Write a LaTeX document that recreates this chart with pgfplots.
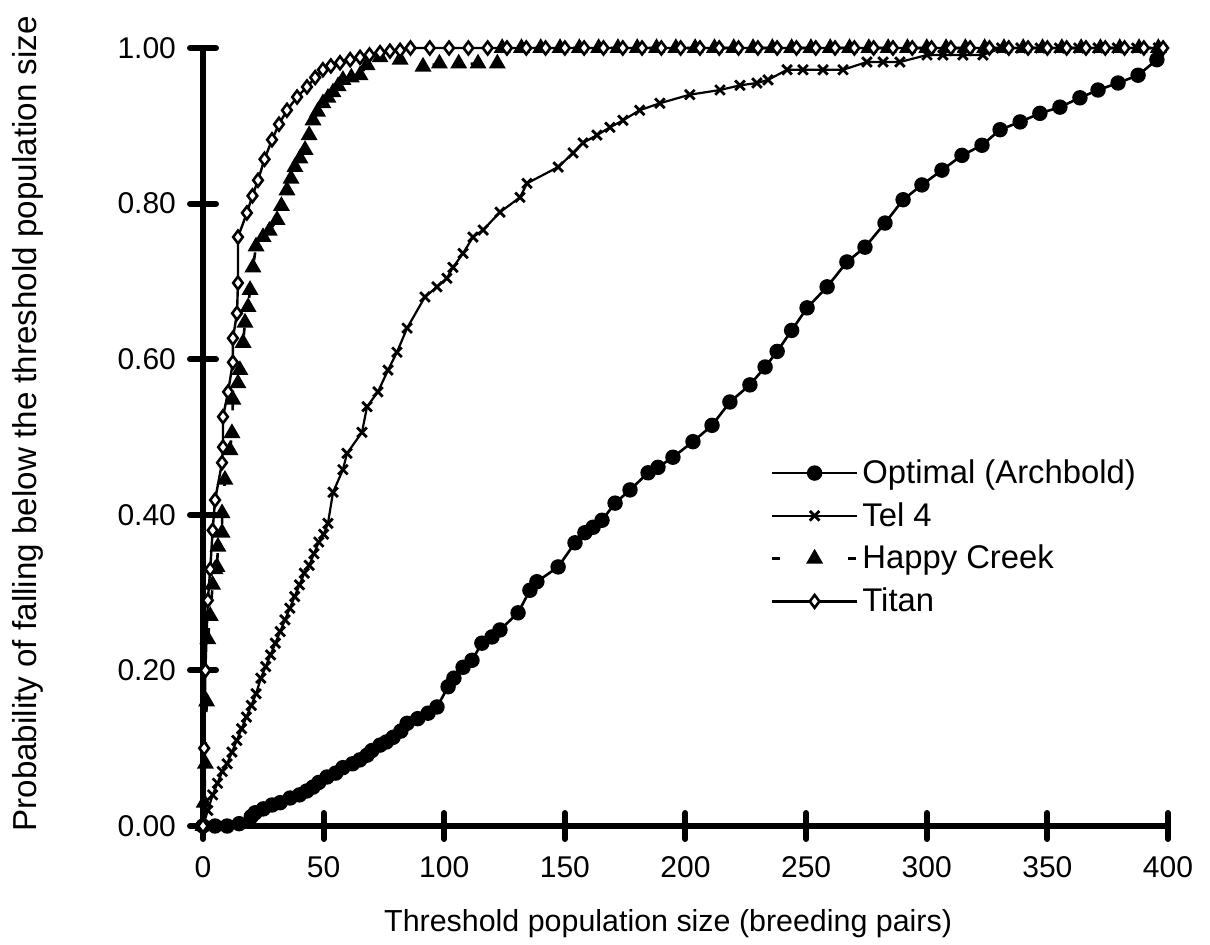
\documentclass[border=0pt]{standalone}
\usepackage{fontspec}
\setmainfont{Liberation Sans}
\usepackage{pgfplots}
\usepackage{pgfplotstable}
\pgfplotsset{compat=1.18}

\pgfplotstableread{
x y
0 0
5 0
10 0
15 0.003
20 0.012
21.6 0.017
25 0.022
28.6 0.027
32 0.03
36.1 0.036
40 0.040
43 0.045
45.6 0.050
48 0.056
51.4 0.063
55 0.068
58 0.075
62 0.080
65 0.085
68 0.091
70 0.097
73.4 0.104
76 0.108
78.8 0.114
82 0.122
84.6 0.132
89 0.138
93.3 0.145
97 0.153
101.6 0.179
104 0.19
107.8 0.204
111.5 0.213
115.6 0.235
119.8 0.243
123.1 0.252
130.6 0.274
135.5 0.303
138.4 0.314
147.2 0.333
154.2 0.364
158.3 0.377
161.7 0.384
165.4 0.393
170.8 0.415
177.0 0.432
184.5 0.454
188.6 0.461
194.8 0.474
203.1 0.494
211.0 0.515
218.4 0.545
226.7 0.567
233 0.59
238 0.61
244 0.637
250.4 0.666
258.7 0.693
266.9 0.725
274.4 0.744
282.7 0.775
290.2 0.805
298.0 0.824
306.3 0.843
314.6 0.862
322.9 0.875
330.4 0.895
338.7 0.905
346.9 0.916
355.2 0.924
363.5 0.936
371.0 0.946
379.3 0.955
387.6 0.965
395.4 0.985
}\optimal

\pgfplotstableread{
x y
0 0
2 0.02
4 0.04
6 0.055
8 0.07
10 0.08
12 0.095
14 0.11
16 0.125
18 0.14
20 0.155
22 0.17
24 0.19
26 0.205
28 0.22
30 0.235
32 0.25
34 0.265
36 0.28
38 0.295
40 0.31
42 0.325
44 0.335
46 0.35
48 0.365
50 0.375
51.8 0.389
53.9 0.429
58.0 0.458
59.7 0.479
65.9 0.506
68.0 0.539
72.5 0.558
76.7 0.586
80.4 0.609
84.6 0.640
92.0 0.680
97.0 0.693
101.1 0.704
103.6 0.718
107.8 0.736
111.9 0.757
116.1 0.766
123.1 0.789
131.4 0.808
134.3 0.826
147.2 0.847
153.4 0.865
157.5 0.878
163.3 0.888
168.7 0.898
174.1 0.907
181 0.920
189.4 0.929
201.8 0.940
214.3 0.946
222.6 0.952
229.6 0.955
234.2 0.959
242.1 0.972
248.7 0.972
257.0 0.972
265.3 0.972
275.2 0.982
281.9 0.982
288.9 0.982
300.1 0.991
306.7 0.991
315.0 0.991
323.3 0.991
331 1.0
339 1.0
347 1.0
355 1.0
363 1.0
371 1.0
379 1.0
387 1.0
396 1.0
}\telfour

\pgfplotstableread{
x y
0 0
0.5 0.03
1 0.08
1.5 0.16
2 0.24
3 0.27
4 0.31
5 0.33
5.8 0.333
6.2 0.359
7.9 0.377
7.9 0.402
9.1 0.445
11.2 0.483
12.0 0.505
12.4 0.548
14.5 0.569
15.3 0.586
16.6 0.621
17.4 0.647
18.7 0.667
19.5 0.689
20.7 0.718
22 0.745
24.9 0.757
27.5 0.765
30.7 0.779
32.5 0.797
34.8 0.817
36.5 0.832
38.1 0.847
40.2 0.858
42.3 0.869
44 0.888
45.6 0.907
47.5 0.918
49.7 0.929
51.8 0.936
53.9 0.943
56 0.951
58.0 0.959
61.5 0.962
65.1 0.965
68.0 0.978
73.4 0.988
81.7 0.985
91.2 0.976
98 0.98
106 0.98
114 0.98
122 0.98
124 1.0
132 1.0
140 1.0
148 1.0
156 1.0
164 1.0
172 1.0
180 1.0
188 1.0
196 1.0
204 1.0
212 1.0
220 1.0
228 1.0
236 1.0
244 1.0
252 1.0
260 1.0
268 1.0
276 1.0
284 1.0
292 1.0
300 1.0
308 1.0
316 1.0
324 1.0
332 1.0
340 1.0
348 1.0
356 1.0
364 1.0
372 1.0
380 1.0
388 1.0
396 1.0
}\happy

\pgfplotstableread{
x y
0 0
0.5 0.1
1 0.2
2 0.29
3 0.33
4 0.38
5.0 0.419
7.9 0.467
8.3 0.487
8.3 0.526
10.4 0.558
12.4 0.596
12.4 0.627
14.1 0.659
14.5 0.698
14.5 0.757
18.2 0.788
20.5 0.810
22.8 0.830
25.5 0.857
28.6 0.882
31.5 0.902
34.8 0.920
39 0.937
43.1 0.950
46.5 0.962
49.7 0.972
53 0.977
56.8 0.981
61 0.985
65.1 0.988
69 0.991
73.4 0.994
77.5 0.996
81.7 0.997
86 1.0
94 1.0
102 1.0
110 1.0
118 1.0
126 1.0
134 1.0
142 1.0
150 1.0
158 1.0
166 1.0
174 1.0
182 1.0
190 1.0
198 1.0
206 1.0
214 1.0
222 1.0
230 1.0
238 1.0
246 1.0
254 1.0
262 1.0
270 1.0
278 1.0
286 1.0
294 1.0
302 1.0
310 1.0
318 1.0
326 1.0
334 1.0
342 1.0
350 1.0
358 1.0
366 1.0
374 1.0
382 1.0
390 1.0
398 1.0
}\titan

\begin{document}
\begin{tikzpicture}
\path[use as bounding box] (-101.5pt,-59pt) rectangle (503.5pt,413pt);
\begin{axis}[
  at={(0pt,0pt)}, anchor=origin,
  scale only axis,
  width=482.5pt, height=389pt,
  xmin=0, xmax=400, ymin=0, ymax=1,
  clip=false,
  axis x line*=bottom, axis y line*=left,
  axis line style={line width=3pt, line cap=round, -},
  every outer x axis line/.append style={-},
  every outer y axis line/.append style={-},
  xtick={0,50,...,400},
  ytick={0,0.2,...,1.0},
  minor tick num=0,
  tick align=center,
  major tick length=13pt,
  major tick style={line width=3pt, line cap=round, black},
  /pgf/number format/assume math mode=true,
  yticklabel style={/pgf/number format/.cd, fixed, fixed zerofill, precision=2, /tikz/.cd, font=\fontsize{15}{17}\selectfont, xshift=-3.5pt},
  xticklabel style={/pgf/number format/.cd, fixed, /tikz/.cd, font=\fontsize{15}{17}\selectfont, yshift=-5pt},
  scaled ticks=false,
  xlabel={Threshold population size (breeding pairs)},
  ylabel={Probability of falling below the threshold population size},
  xlabel style={at={(axis description cs:0.482,-0.126)}, anchor=center, font=\fontsize{15.2}{17}\selectfont},
  ylabel style={at={(axis description cs:-0.181,0.517)}, anchor=center, rotate=0, font=\fontsize{16.6}{18}\selectfont},
  legend style={at={(rel axis cs:0.588,0.4765)}, anchor=north west, draw=none, fill=none, font=\fontsize{16.4}{18}\selectfont, row sep=4pt, inner sep=0pt, cells={anchor=west}},
  legend cell align=left,
  legend image code/.code={\draw[#1, mark repeat=2, mark phase=2] plot coordinates {(0pt,0pt) (21.25pt,0pt) (42.5pt,0pt)};},
]
\addplot[black, line width=1.3pt, mark=*, mark size=3.2pt, mark options={solid, fill=black}] table[x=x,y=y] {\optimal};
\addlegendentry{Optimal (Archbold)}
\addplot[black, line width=1.1pt, mark=x, mark size=3.4pt, mark options={solid, line width=1.4pt}] table[x=x,y=y] {\telfour};
\addlegendentry{Tel 4}
\addplot[black, line width=1.3pt, dash pattern=on 4pt off 15pt, mark=triangle*, mark size=3.6pt, mark options={solid, fill=black}] table[x=x,y=y] {\happy};
\addlegendentry{Happy Creek}
\addplot[black, line width=1.2pt, mark=diamond*, mark size=3.2pt, mark options={solid, fill=white, line width=1.3pt}] table[x=x,y=y] {\titan};
\addlegendentry{Titan}
\end{axis}
\end{tikzpicture}
\end{document}
